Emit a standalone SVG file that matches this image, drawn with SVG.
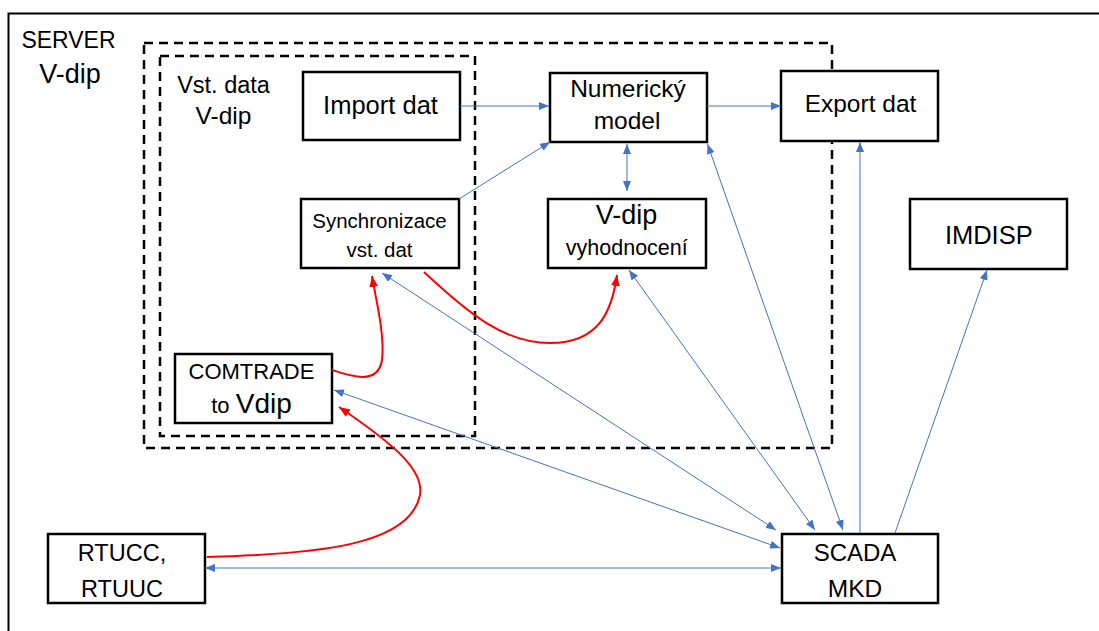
<svg xmlns="http://www.w3.org/2000/svg" width="1099" height="631" viewBox="0 0 1099 631">
<style>
.box{fill:#fff;stroke:#000;stroke-width:2.5}
.dash{fill:none;stroke:#000;stroke-width:2.5;stroke-dasharray:9,6}
.t{font-family:"Liberation Sans",Arial,sans-serif;fill:#000;text-anchor:middle}
.b{fill:none;stroke:#4472C4;stroke-width:1}
.r{fill:none;stroke:#FF0000;stroke-width:2}
</style>
<defs>
<marker id="ab" viewBox="0 0 10 8" refX="10" refY="4" markerWidth="10" markerHeight="8" markerUnits="userSpaceOnUse" orient="auto-start-reverse"><path d="M0,0 L10,4 L0,8 z" fill="#4472C4"/></marker>
<marker id="ar" viewBox="0 0 10 8" refX="10" refY="4" markerWidth="11" markerHeight="9" markerUnits="userSpaceOnUse" orient="auto"><path d="M0,0 L10,4 L0,8 z" fill="#FF0000"/></marker>
</defs>
<rect width="1099" height="631" fill="#fff"/>
<g id="server">
<rect x="8.5" y="13.5" width="1200" height="700" fill="none" stroke="#000" stroke-width="2"/>
<text class="t" x="68.5" y="48" font-size="23">SERVER</text>
<text class="t" x="70" y="83" font-size="27">V-dip</text>
</g>
<g id="vdip-zone"><rect class="dash" x="144" y="43" width="688" height="405"/></g>
<g id="vst-data">
<rect class="dash" x="160" y="56" width="315" height="380"/>
<text class="t" x="223.5" y="93" font-size="23.5">Vst. data</text>
<text class="t" x="223.5" y="124" font-size="24.5">V-dip</text>
</g>
<g id="import"><rect class="box" x="303" y="72" width="157" height="68"/><text class="t" x="380.5" y="114" font-size="25.5">Import dat</text></g>
<g id="numericky"><rect class="box" x="550" y="73" width="157" height="69"/><text class="t" x="628" y="97" font-size="24.5">Numerický</text><text class="t" x="627" y="129" font-size="24.5">model</text></g>
<g id="export"><rect class="box" x="781" y="71" width="157" height="70"/><text class="t" x="860.5" y="112" font-size="24.5">Export dat</text></g>
<g id="sync"><rect class="box" x="301" y="199" width="158" height="69"/><text class="t" x="379.5" y="228" font-size="20.5">Synchronizace</text><text class="t" x="379.5" y="257" font-size="20.5">vst. dat</text></g>
<g id="vdip-eval"><rect class="box" x="548" y="199" width="158" height="69"/><text class="t" x="626.6" y="224" font-size="27">V-dip</text><text class="t" x="626.8" y="255" font-size="21.5">vyhodnocení</text></g>
<g id="imdisp"><rect class="box" x="910" y="199" width="157" height="70"/><text class="t" x="988.8" y="244" font-size="25.5">IMDISP</text></g>
<g id="comtrade"><rect class="box" x="175" y="354" width="157" height="69"/><text class="t" x="251.5" y="379" font-size="22">COMTRADE</text><text class="t" x="251.5" y="413" font-size="22">to <tspan font-size="28">Vdip</tspan></text></g>
<g id="rtucc"><rect class="box" x="48" y="534" width="157" height="69"/><text class="t" x="122" y="561" font-size="23.5">RTUCC,</text><text class="t" x="122" y="597" font-size="23.5">RTUUC</text></g>
<g id="scada"><rect class="box" x="782" y="534" width="156" height="69"/><text class="t" x="855" y="561" font-size="24">SCADA</text><text class="t" x="855" y="597" font-size="24.5">MKD</text></g>
<g id="connectors">
<line class="b" x1="460" y1="106" x2="549" y2="106" marker-end="url(#ab)"/>
<line class="b" x1="707" y1="106" x2="781" y2="106" marker-end="url(#ab)"/>
<line class="b" x1="459" y1="199" x2="550" y2="142" marker-end="url(#ab)"/>
<line class="b" x1="627" y1="144" x2="627" y2="191" marker-start="url(#ab)" marker-end="url(#ab)"/>
<line class="b" x1="382" y1="273" x2="776" y2="530" marker-start="url(#ab)" marker-end="url(#ab)"/>
<line class="b" x1="334" y1="390" x2="780" y2="548" marker-start="url(#ab)" marker-end="url(#ab)"/>
<line class="b" x1="629" y1="270" x2="815" y2="530" marker-start="url(#ab)" marker-end="url(#ab)"/>
<line class="b" x1="707.5" y1="144" x2="843" y2="530" marker-start="url(#ab)" marker-end="url(#ab)"/>
<line class="b" x1="860" y1="533" x2="860" y2="142" marker-end="url(#ab)"/>
<line class="b" x1="895" y1="533" x2="987" y2="270" marker-end="url(#ab)"/>
<line class="b" x1="205" y1="568" x2="781" y2="568" marker-start="url(#ab)" marker-end="url(#ab)"/>
<path class="r" d="M332,370 C350,376 378,386 382,360 C385,335 376,300 372,276" marker-end="url(#ar)"/>
<path class="r" d="M424,272 C470,315 505,343 550,343 C600,343 612,310 617,275" marker-end="url(#ar)"/>
<path class="r" d="M207,557 C320,554 410,545 420,495 C424,470 395,445 339,407" marker-end="url(#ar)"/>
</g>
</svg>
